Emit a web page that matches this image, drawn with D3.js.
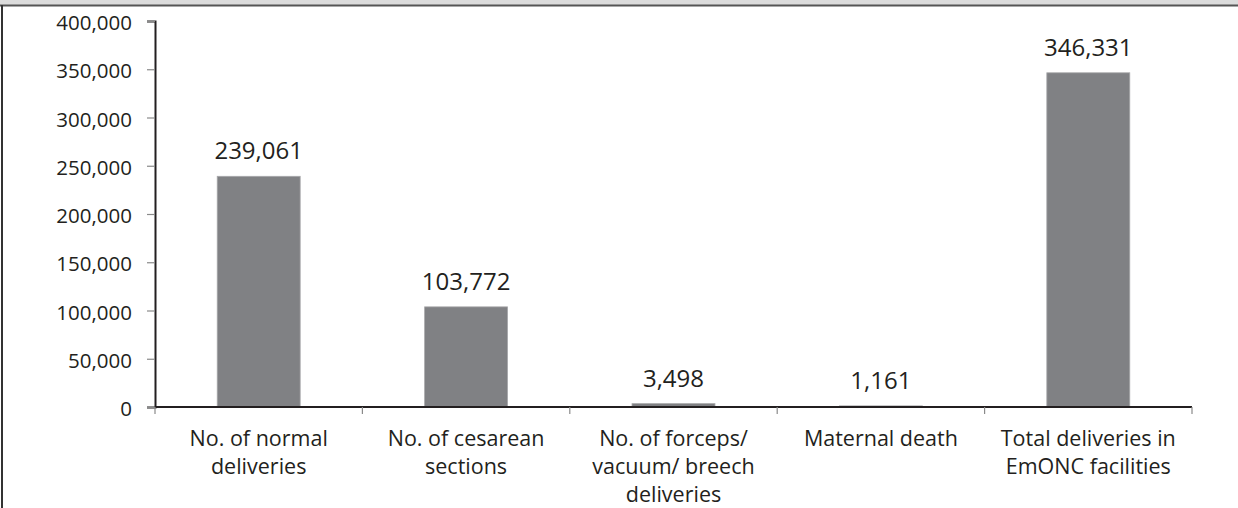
<!DOCTYPE html>
<html>
<head>
<meta charset="utf-8">
<script src="https://cdn.jsdelivr.net/npm/d3@7"></script>
<style>
  html, body { margin: 0; padding: 0; background: #fff; }
  svg { display: block; }
  text { font-family: "Open Sans", Lato, sans-serif; fill: #231f20; }
</style>
</head>
<body>
<svg id="chart" width="1238" height="508"></svg>
<script>
// Delivery outcomes reported by EmONC facilities
const categories = [
  "No. of normal\ndeliveries",
  "No. of cesarean\nsections",
  "No. of forceps/\nvacuum/ breech\ndeliveries",
  "Maternal death",
  "Total deliveries in\nEmONC facilities"
];
const values = [239061, 103772, 3498, 1161, 346331];
const yTicks = [0, 50000, 100000, 150000, 200000, 250000, 300000, 350000, 400000];

const W = 1238, H = 508;
const margin = { left: 155, right: 46, top: 21, bottom: 101 };

const svg = d3.select("#chart");

// header strip and frame
svg.append("rect").attr("x", 0).attr("y", 0).attr("width", W).attr("height", 5).attr("fill", "#dcdcdc");
svg.append("line").attr("x1", 0).attr("x2", W).attr("y1", 5.5).attr("y2", 5.5)
  .attr("stroke", "#555").attr("stroke-width", 2);
svg.append("line").attr("x1", 2).attr("x2", 2).attr("y1", 5).attr("y2", H)
  .attr("stroke", "#333").attr("stroke-width", 2);

const x = d3.scaleBand()
  .domain(categories)
  .range([margin.left, W - margin.right])
  .paddingInner(0.6)
  .paddingOuter(0.3);

const y = d3.scaleLinear()
  .domain([0, 400000])
  .range([H - margin.bottom, margin.top]);

const fmt = d3.format(",");

// bars
svg.append("g").selectAll("rect")
  .data(values)
  .join("rect")
  .attr("x", (d, i) => x(categories[i]))
  .attr("y", d => y(d))
  .attr("width", x.bandwidth())
  .attr("height", d => y(0) - y(d))
  .attr("fill", "#808184")
  .attr("stroke", "#a7a8aa")
  .attr("stroke-width", 0.8);

// value labels
svg.append("g").selectAll("text")
  .data(values)
  .join("text")
  .attr("x", (d, i) => x(categories[i]) + x.bandwidth() / 2)
  .attr("y", d => y(d) - 17)
  .attr("text-anchor", "middle")
  .attr("font-size", 24)
  .text(d => fmt(d));

// y axis
const yAxis = svg.append("g")
  .attr("transform", `translate(${margin.left},0)`)
  .call(d3.axisLeft(y).tickValues(yTicks).tickFormat(fmt).tickSize(8).tickPadding(15));
yAxis.select(".domain").attr("stroke", "#231f20").attr("stroke-width", 2);
yAxis.selectAll(".tick line").attr("stroke", "#8a8a8a").attr("stroke-width", 1.2);
yAxis.selectAll(".tick text").attr("font-size", 20.5).attr("fill", "#231f20").attr("dy", "0.42em")
  .style("font-family", "'Open Sans', sans-serif");

// x axis with boundary ticks between categories
const x0 = y(0);
const bounds = d3.range(categories.length + 1).map(i => margin.left + i * (W - margin.right - margin.left) / categories.length);
svg.append("line")
  .attr("x1", margin.left).attr("x2", W - margin.right)
  .attr("y1", x0).attr("y2", x0)
  .attr("stroke", "#231f20").attr("stroke-width", 2);
svg.append("g").selectAll("line")
  .data(bounds)
  .join("line")
  .attr("x1", d => d).attr("x2", d => d)
  .attr("y1", x0).attr("y2", x0 + 7)
  .attr("stroke", "#8a8a8a").attr("stroke-width", 1.2);

// category labels
const lab = svg.append("g").selectAll("text")
  .data(categories)
  .join("text")
  .attr("x", d => x(d) + x.bandwidth() / 2)
  .attr("y", x0 + 39)
  .attr("text-anchor", "middle")
  .attr("font-size", 21.5);
lab.each(function(d) {
  const t = d3.select(this);
  d.split("\n").forEach((line, i) => {
    t.append("tspan")
      .attr("x", t.attr("x"))
      .attr("dy", i === 0 ? 0 : 28)
      .text(line);
  });
});
</script>
</body>
</html>
